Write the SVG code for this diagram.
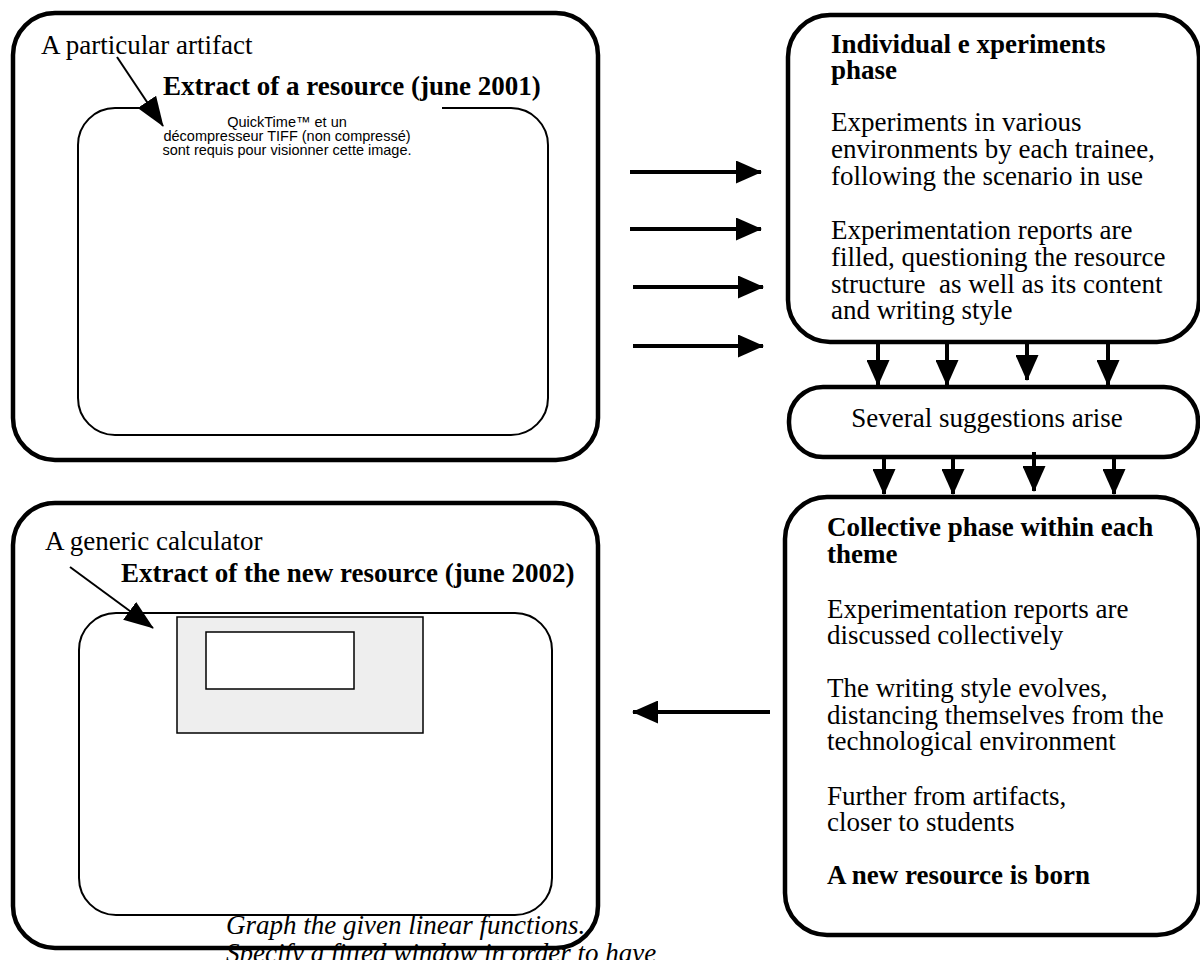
<svg xmlns="http://www.w3.org/2000/svg" width="1200" height="960" viewBox="0 0 1200 960">
<style>
.outer{fill:none;stroke:#000;stroke-width:4.5}
.inner{fill:none;stroke:#000;stroke-width:2}
.t{font-family:"Liberation Serif",serif;font-size:27px;fill:#000}
.b{font-weight:bold}
.qt{font-family:"Liberation Sans",sans-serif;font-size:14.5px;fill:#000;text-anchor:middle}
.conn{stroke:#000;stroke-width:4;fill:none}
.thin{stroke:#000;stroke-width:2;fill:none}
</style>
<defs>
<marker id="ah" viewBox="0 0 26 23" refX="25" refY="11.5" markerWidth="26" markerHeight="23" markerUnits="userSpaceOnUse" orient="auto"><path d="M0,0 L26,11.5 L0,23 Z" fill="#000"/></marker>
<marker id="ahs" viewBox="0 0 30 22" refX="29" refY="11" markerWidth="30" markerHeight="22" markerUnits="userSpaceOnUse" orient="auto"><path d="M0,0 L30,11 L0,22 Z" fill="#000"/></marker>
</defs>
<rect width="1200" height="960" fill="#fff"/>

<g id="old-resource">
<rect class="outer" x="13" y="13" width="585" height="447" rx="42"/>
<path class="inner" d="M145,108 L115,108 A37,37 0 0 0 78,145 L78,398 A37,37 0 0 0 115,435 L511,435 A37,37 0 0 0 548,398 L548,145 A37,37 0 0 0 511,108 L442,108"/>
<text class="t" x="41" y="54">A particular artifact</text>
<text class="t b" x="163" y="95">Extract of a resource (june 2001)</text>
<text class="qt" x="287" y="127">QuickTime™ et un</text>
<text class="qt" x="287" y="141">décompresseur TIFF (non compressé)</text>
<text class="qt" x="287" y="155">sont requis pour visionner cette image.</text>
<line class="thin" x1="117" y1="57" x2="163" y2="126" marker-end="url(#ahs)"/>
</g>

<g id="new-resource">
<rect class="outer" x="13" y="503" width="585" height="445" rx="42"/>
<rect class="inner" x="79" y="613" width="473" height="302" rx="37"/>
<rect x="177" y="617" width="246" height="116" fill="#eeeeee" stroke="#000" stroke-width="1.5"/>
<rect x="206" y="632" width="148" height="57" fill="#fff" stroke="#000" stroke-width="1.5"/>
<text class="t" x="45" y="550">A generic calculator</text>
<text class="t b" x="121" y="582">Extract of the new resource (june 2002)</text>
<line class="thin" x1="70" y1="567" x2="153" y2="628" marker-end="url(#ahs)"/>
<text class="t" x="226" y="934" font-style="italic">Graph the given linear functions.</text>
<text class="t" x="226" y="962" font-style="italic">Specify a fitted window in order to have</text>
</g>

<g id="individual-phase">
<rect class="outer" x="788" y="15" width="411" height="327" rx="42"/>
<text class="t b" x="831" y="53">Individual e xperiments</text>
<text class="t b" x="831" y="79">phase</text>
<text class="t" x="831" y="131">Experiments in various</text>
<text class="t" x="831" y="158">environments by each trainee,</text>
<text class="t" x="831" y="185">following the scenario in use</text>
<text class="t" x="831" y="239">Experimentation reports are</text>
<text class="t" x="831" y="266">filled, questioning the resource</text>
<text class="t" x="831" y="293" xml:space="preserve">structure  as well as its content</text>
<text class="t" x="831" y="319">and writing style</text>
</g>

<g id="suggestions">
<rect class="outer" x="789" y="387" width="409" height="70" rx="34"/>
<text class="t" x="987" y="427" text-anchor="middle">Several suggestions arise</text>
</g>

<g id="collective-phase">
<rect class="outer" x="785" y="497" width="414" height="438" rx="42"/>
<text class="t b" x="827" y="536">Collective phase within each</text>
<text class="t b" x="827" y="563">theme</text>
<text class="t" x="827" y="618">Experimentation reports are</text>
<text class="t" x="827" y="644">discussed collectively</text>
<text class="t" x="827" y="697">The writing style evolves,</text>
<text class="t" x="827" y="724">distancing themselves from the</text>
<text class="t" x="827" y="750">technological environment</text>
<text class="t" x="827" y="805">Further from artifacts,</text>
<text class="t" x="827" y="831">closer to students</text>
<text class="t b" x="827" y="884">A new resource is born</text>
</g>

<g id="connectors">
<line class="conn" x1="630" y1="172" x2="761" y2="172" marker-end="url(#ah)"/>
<line class="conn" x1="630" y1="229" x2="761" y2="229" marker-end="url(#ah)"/>
<line class="conn" x1="633" y1="287" x2="763" y2="287" marker-end="url(#ah)"/>
<line class="conn" x1="633" y1="346" x2="763" y2="346" marker-end="url(#ah)"/>
<line class="conn" x1="878" y1="344" x2="878" y2="385" marker-end="url(#ah)"/>
<line class="conn" x1="947" y1="344" x2="947" y2="385" marker-end="url(#ah)"/>
<line class="conn" x1="1027" y1="342" x2="1027" y2="380" marker-end="url(#ah)"/>
<line class="conn" x1="1108" y1="344" x2="1108" y2="385" marker-end="url(#ah)"/>
<line class="conn" x1="884" y1="459" x2="884" y2="494" marker-end="url(#ah)"/>
<line class="conn" x1="953" y1="459" x2="953" y2="494" marker-end="url(#ah)"/>
<line class="conn" x1="1034" y1="452" x2="1034" y2="491" marker-end="url(#ah)"/>
<line class="conn" x1="1114" y1="459" x2="1114" y2="494" marker-end="url(#ah)"/>
<line class="conn" x1="770" y1="712" x2="633" y2="712" marker-end="url(#ah)"/>
</g>
</svg>
